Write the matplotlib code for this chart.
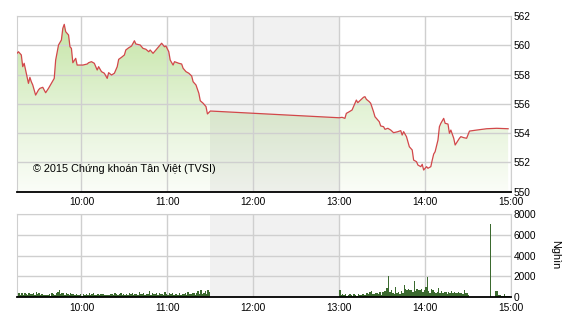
import matplotlib
matplotlib.use("Agg")
import matplotlib.pyplot as plt
import numpy as np
from matplotlib.colors import LinearSegmentedColormap

plt.rcParams['font.family'] = ['Liberation Sans', 'DejaVu Sans']

# ---- price data ----
price_times = [
    "09:15", "09:16", "09:18", "09:19", "09:20", "09:21", "09:23", "09:24", "09:25", "09:26",
    "09:28", "09:30", "09:31", "09:33", "09:35", "09:37", "09:39", "09:41", "09:42", "09:44",
    "09:46", "09:47", "09:48", "09:49", "09:51", "09:52", "09:53", "09:54", "09:56", "09:57",
    "09:59", "10:01", "10:04", "10:05", "10:07", "10:09", "10:11", "10:12", "10:14", "10:16",
    "10:18", "10:19", "10:21", "10:23", "10:25", "10:26", "10:28", "10:30", "10:31", "10:33",
    "10:35", "10:37", "10:38", "10:41", "10:43", "10:45", "10:47", "10:48", "10:50", "10:52",
    "10:54", "10:56", "10:58", "10:59", "11:01", "11:02", "11:04", "11:05", "11:08", "11:10",
    "11:11", "11:13", "11:15", "11:17", "11:18", "11:20", "11:22", "11:23", "11:25", "11:27",
    "11:28", "11:30",
    "13:00", "13:02", "13:04", "13:05", "13:07", "13:09", "13:11", "13:12", "13:13", "13:15",
    "13:17", "13:18", "13:19", "13:21", "13:22", "13:24", "13:25", "13:27", "13:28", "13:29",
    "13:31", "13:32", "13:34", "13:36", "13:38", "13:41", "13:43", "13:44", "13:45", "13:47",
    "13:48", "13:49", "13:51", "13:52", "13:54", "13:55", "13:57", "13:58", "13:59", "14:01",
    "14:02", "14:04", "14:05", "14:06", "14:07", "14:09", "14:10", "14:11", "14:13", "14:14",
    "14:16", "14:17", "14:18", "14:20", "14:21", "14:24", "14:25", "14:27", "14:29", "14:31",
    "14:36", "14:43", "14:50", "14:58",
]
price_values = [
    559.45, 559.56, 559.34, 558.54, 558.77, 558.31, 557.40, 557.81, 557.51, 557.29,
    556.60, 556.95, 557.06, 557.13, 556.76, 557.06, 557.40, 557.74, 558.99, 560.02,
    560.36, 561.16, 561.43, 560.93, 560.70, 559.90, 559.79, 558.81, 559.11, 558.65,
    558.65, 558.65, 558.72, 558.81, 558.88, 558.77, 558.31, 558.54, 558.20, 558.09,
    557.74, 558.13, 557.97, 558.09, 558.54, 559.04, 559.18, 559.34, 559.68, 559.83,
    559.95, 560.31, 560.09, 560.02, 559.79, 559.73, 559.56, 559.68, 559.45, 559.68,
    559.90, 560.14, 559.90, 559.95, 559.56, 558.99, 558.65, 558.88, 558.77, 558.72,
    558.43, 558.20, 558.09, 557.90, 557.51, 557.29, 556.72, 556.21, 556.04, 555.81,
    555.31, 555.51,
    555.05, 555.08, 555.01, 555.35, 555.46, 555.58, 556.04, 556.26, 556.08, 556.26,
    556.45, 556.49, 556.31, 556.15, 556.04, 555.46, 555.12, 554.90, 554.78, 554.49,
    554.44, 554.26, 554.33, 554.21, 554.03, 554.10, 554.17, 553.87, 554.10, 553.76,
    553.41, 553.07, 552.85, 552.16, 552.05, 551.82, 551.71, 551.87, 551.48, 551.71,
    551.60, 551.71, 552.16, 552.57, 552.73, 553.53, 554.44, 554.67, 555.01, 554.67,
    554.62, 553.99, 554.21, 553.65, 553.19, 553.65, 553.76, 553.69, 553.65, 554.14,
    554.21, 554.30, 554.33, 554.30,
]

# ---- volume data (thousand shares, one bar per minute) ----
vol_morning_start = "09:15"
vol_morning = [
    120, 350, 200, 380, 150, 400, 320, 180, 420, 300, 250, 380, 200, 450, 300,
    380, 150, 260, 200, 180, 160, 220, 300, 140, 380, 250, 200, 420, 500, 720,
    300, 420, 380, 200, 350, 300, 180, 420, 250, 300, 200, 280, 160, 240, 300,
    100, 250, 180, 320, 200, 380, 150, 280, 350, 200, 180, 300, 220, 250, 280,
    300, 200, 180, 220, 150, 320, 280, 200, 350, 250, 180, 300, 380, 200, 260,
    220, 300, 180, 350, 250, 400, 200, 280, 320, 180, 450, 250, 300, 380, 200,
    300, 250, 550, 200, 350, 300, 280, 420, 200, 380, 250, 300, 200, 450, 280,
    180, 350, 250, 400, 200, 300, 280, 180, 350, 200, 250, 300, 380, 200, 500,
    300, 250, 350, 420, 200, 380, 550, 300, 650, 250, 400, 600, 300, 700, 450,
]
vol_afternoon_start = "13:00"
vol_afternoon = [
    720, 200, 300, 150, 250, 120, 200, 300, 150, 100, 250, 180, 120, 300, 200,
    150, 250, 200, 180, 350, 250, 500, 600, 300, 250, 400, 350, 300, 450, 200,
    500, 600, 550, 900, 2000, 500, 650, 400, 300, 1000, 350, 450, 300, 600, 400,
    1150, 800, 700, 750, 650, 700, 450, 1550, 600, 800, 700, 650, 750, 500, 700,
    1000, 1950, 600, 400, 800, 650, 500, 350, 500, 900, 400, 600, 350, 450, 500,
    300, 450, 400, 600, 350, 500, 400, 350, 450, 400, 350, 300, 650, 350, 400,
    150, 0, 0, 0, 0, 0, 0, 0, 0, 0, 0, 0, 0, 0, 0,
    7050, 0, 0, 0, 600, 550, 150, 150, 120, 100, 300, 100, 80, 50, 0,
]

hour_ticks = ["10:00", "11:00", "12:00", "13:00", "14:00", "15:00"]
price_ticks = [550, 552, 554, 556, 558, 560, 562]
vol_ticks = [0, 2000, 4000, 6000, 8000]


def to_h(s):
    h, m = s.split(":")
    return int(h) + int(m) / 60.0


px = np.array([to_h(t) for t in price_times])
py = np.array(price_values)

vx = np.concatenate([to_h(vol_morning_start) + np.arange(len(vol_morning)) / 60.0,
                     to_h(vol_afternoon_start) + np.arange(len(vol_afternoon)) / 60.0])
vy = np.array(vol_morning + vol_afternoon)

X0, X1 = 9.25, 15.0
LUNCH0, LUNCH1 = 11.5, 13.0
grid_c = '#cfcfcf'
hx = [to_h(t) for t in hour_ticks]

fig = plt.figure(figsize=(5.7, 3.2), dpi=100)
ax = fig.add_axes([17 / 570, 1 - 191.7 / 320, (511 - 17) / 570, (191.7 - 16) / 320])
ax2 = fig.add_axes([17 / 570, 1 - 297 / 320, (511 - 17) / 570, (297 - 214) / 320])

for a, yt in ((ax, price_ticks), (ax2, vol_ticks)):
    a.set_xlim(X0, X1)
    a.axvspan(LUNCH0, LUNCH1, color='#f1f1f1', zorder=0, lw=0)
    a.set_xticks(hx)
    a.set_xticklabels(hour_ticks)
    a.set_yticks(yt)
    for x in hx:
        a.axvline(x, color=grid_c, lw=1, zorder=3)
    for y in yt:
        a.axhline(y, color=grid_c, lw=1, zorder=3)
    a.yaxis.tick_right()
    a.tick_params(axis='both', length=0, labelsize=7.3, colors='black', pad=2)
    a.tick_params(axis='x', pad=4)
    for s in ('left', 'right', 'top'):
        a.spines[s].set_color(grid_c)
    a.spines['bottom'].set_color('black')
    a.spines['bottom'].set_linewidth(1.3)
    a.spines['bottom'].set_zorder(6)

# price panel
ax.set_ylim(550, 562)
cmap = LinearSegmentedColormap.from_list('g', ['#fbfdf8', '#e2f2d4', '#c3e4a3'])
grad = np.linspace(0, 1, 256).reshape(-1, 1)
img = ax.imshow(grad, extent=[X0, X1, 550, 562], origin='lower', aspect='auto',
                cmap=cmap, zorder=2)
poly = ax.fill_between(px, py, 550, color='none', lw=0)
clip = poly.get_paths()[0]
img.set_clip_path(clip, transform=ax.transData)
shade = ax.axvspan(LUNCH0, LUNCH1, color='black', alpha=0.05, zorder=2.5, lw=0)
shade.set_clip_path(clip, transform=ax.transData)
ax.plot(px, py, color='#d2474a', lw=0.9, zorder=4)
ax.text(9.436, 551.55, "\u00a9 2015 Ch\u1ee9ng kho\u00e1n T\u00e2n Vi\u1ec7t (TVSI)",
        fontsize=7.8, va='center', ha='left', zorder=5)

# volume panel
ax2.set_ylim(0, 8000)
ax2.bar(vx, vy, width=1 / 60.0, align='edge', color='#3b6a2f', lw=0, zorder=4)
fig.text(555 / 570, 1 - 255 / 320, "Ngh\u00ecn", rotation=-90, fontsize=7.8,
         ha='center', va='center')

fig.savefig("out.png", dpi=100)
